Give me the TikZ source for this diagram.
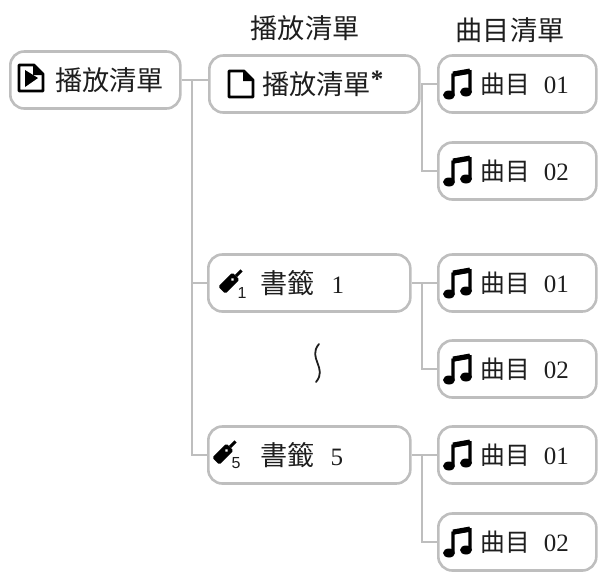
\documentclass[tikz,border=0pt]{standalone}
\usepackage{fontspec}
\newfontfamily\cjk{Noto Sans CJK TC}[Scale=0.97]
\newfontfamily\numserif{Liberation Serif}
\newfontfamily\numsans{Liberation Sans}
\definecolor{boxgray}{RGB}{190,190,190}
\definecolor{inkgray}{RGB}{30,30,30}
\tikzset{
  itembox/.style={draw=boxgray, line width=2.6pt, rounded corners=14pt, minimum height=57pt,
    text width=#1, inner xsep=0pt, inner ysep=0pt, align=left, anchor=west, text=inkgray},
  rootbox/.style={itembox=170pt, font=\cjk\fontsize{28}{28}\selectfont},
  listbox/.style={itembox=#1, font=\cjk\fontsize{28}{28}\selectfont},
  trackbox/.style={itembox=158pt, font=\cjk\fontsize{25.5}{26}\selectfont},
  heading/.style={text=inkgray, inner sep=0pt, font=\cjk\fontsize{28}{28}\selectfont},
  subnum/.style={inner sep=0pt, text=inkgray, font=\numsans\fontsize{16}{16}\selectfont},
  branch/.style={draw=boxgray, line width=2.4pt},
  pics/notes/.style={code={
    \fill[black] (-9,11) ellipse (6pt and 4.5pt) (8,8) ellipse (6pt and 4.5pt);
    \draw[black, line width=3.4pt] (-5,10) -- (-5,-9) -- (12,-12) -- (12,8);
    \draw[black, line width=5pt] (-5,-10) -- (12,-13);
  }},
  pics/page/.style={code={
    \draw[black, line width=2.8pt, line join=round] (-12,-13) -- (3,-13) -- (12,-4) -- (12,13) -- (-12,13) -- cycle;
    \fill[black] (2,-13) -- (12,-3) -- (2,-3) -- cycle;
  }},
  pics/marker/.style={code={
    \begin{scope}[rotate=45]
    \fill[black, rounded corners=1.5pt] (-13,-5) rectangle (7,5);
    \fill[black] (7,-1.5) rectangle (15,1.5);
    \fill[white] (2,0) circle (1.6pt);
    \end{scope}
  }}
}
\newcommand{\icongap}[1]{\hspace*{#1}}
\newcommand{\serifnum}[1]{{\numserif\fontsize{25}{25}\selectfont #1}}
\begin{document}
\begin{tikzpicture}[x=1pt,y=-1pt]
\useasboundingbox (0,0) rectangle (609,571);
\node[heading] (listhead) at (305,28) {播放清單};
\node[heading] (trackhead) at (510,30) {曲目清單};
% left column
\node[rootbox] (root) at (9,80) {\icongap{45pt}播放清單};
\pic at (31,78) {page};
\fill[black] (25,70) -- (38,78) -- (25,87) -- cycle;
\coordinate (rootjoin) at (192,80);
% middle column
\node[listbox=210pt] (list) at (208,84) {\icongap{53pt}播放清單\raisebox{7pt}{\serifnum{\textbf{*}}}};
\pic at (241,84) {page};
\node[listbox=202pt] (mark1) at (207,283) {\icongap{52pt}書籤\hspace{17pt}\serifnum{1}};
\pic at (231,281) {marker};
\node[subnum] (num1) at (242,293) {1};
\node[listbox=202pt] (mark5) at (207,455) {\icongap{52pt}書籤\hspace{16pt}\serifnum{5}};
\pic at (225,452) {marker};
\node[subnum] (num5) at (236,463) {5};
\draw[inkgray, line width=1.8pt, line cap=round] (319,344) .. controls (307,358) and (328,368) .. (316,382);
% right column
\foreach \name/\ypos/\tnum in {a/84/01,b/171/02,c/283/01,d/369/02,e/455/01,f/542/02} {
  \node[trackbox] (track\name) at (437,\ypos) {\icongap{42pt}曲目\hspace{14pt}\serifnum{\tnum}};
  \pic at (458,\ypos) {notes};
}
% connectors
\draw[branch] (root.east) -- (list.west |- root.east);
\draw[branch] (rootjoin) |- (mark1.west);
\draw[branch] (rootjoin) |- (mark5.west);
\foreach \from/\upper/\lower in {list/tracka/trackb,mark1/trackc/trackd,mark5/tracke/trackf} {
  \draw[branch] (\from.east) -- (\upper.west);
  \draw[branch] ([xshift=-15pt]\upper.west) |- (\lower.west);
}
\end{tikzpicture}
\end{document}
